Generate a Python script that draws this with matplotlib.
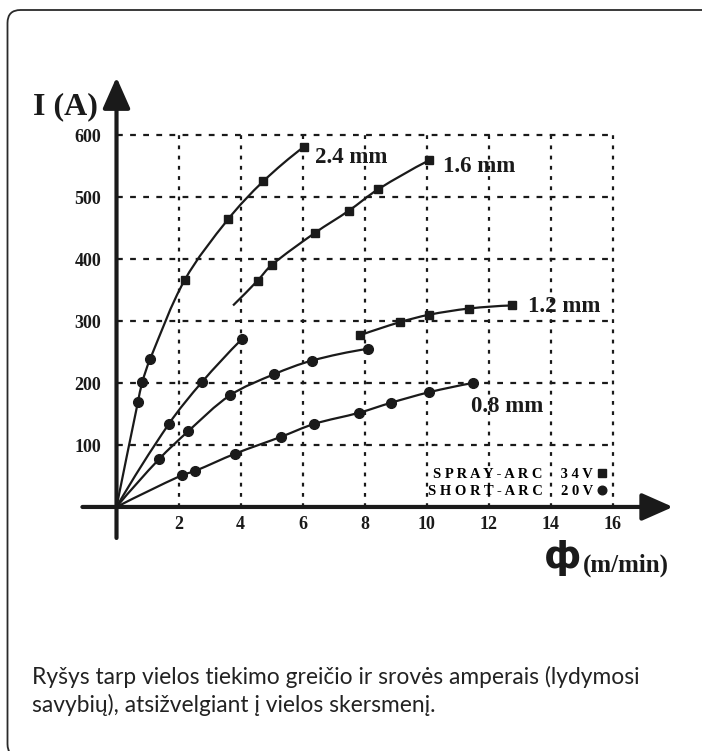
import numpy as np
import matplotlib
matplotlib.use('Agg')
import matplotlib.pyplot as plt
from matplotlib.path import Path
from matplotlib.patches import PathPatch, FancyBboxPatch
from matplotlib.lines import Line2D
from matplotlib.transforms import IdentityTransform

# wire feed speed (m/min) vs current (A)
wire_labels = ['2.4 mm', '1.6 mm', '1.2 mm', '0.8 mm']

# short-arc points (circles), curves start at the origin
short_x = {
    '2.4 mm': [0.69, 0.83, 1.08],
    '1.6 mm': [1.69, 2.75, 4.05],
    '1.2 mm': [1.37, 2.31, 3.66, 5.08, 6.3, 8.1],
    '0.8 mm': [2.1, 2.53, 3.83, 5.3, 6.38, 7.83, 8.85, 10.08, 11.5],
}
short_y = {
    '2.4 mm': [169, 201, 238],
    '1.6 mm': [134, 201, 271],
    '1.2 mm': [77, 122, 180, 214, 236, 255],
    '0.8 mm': [51, 58, 86, 113, 134, 152, 168, 185, 200],
}

# spray-arc points (squares)
spray_x = {
    '2.4 mm': [2.2, 3.6, 4.73, 6.05],
    '1.6 mm': [4.55, 5.0, 6.4, 7.5, 8.43, 10.08],
    '1.2 mm': [7.86, 9.14, 10.08, 11.37, 12.76],
}
spray_y = {
    '2.4 mm': [366, 464, 525, 581],
    '1.6 mm': [365, 390, 442, 478, 512, 559],
    '1.2 mm': [277, 298, 310, 320, 325],
}
# the 1.6 mm spray curve starts a little before its first square
spray16_start = (3.76, 325)
# 2.4 mm is one continuous curve through both kinds of points
joined = ['2.4 mm']

label_pos = {'2.4 mm': (6.4, 555), '1.6 mm': (10.53, 540),
             '1.2 mm': (13.27, 315), '0.8 mm': (11.43, 153)}

xticks = [2, 4, 6, 8, 10, 12, 14, 16]
yticks = [100, 200, 300, 400, 500, 600]

caption = ('Ryšys tarp vielos tiekimo greičio ir srovės amperais (lydymosi\n'
           'savybių), atsižvelgiant į vielos skersmenį.')

SX, SY = 31.0, 0.62  # px per data unit, used to keep curves round on screen


def smooth_path(xs, ys):
    p = np.column_stack([np.asarray(xs) * SX, np.asarray(ys) * SY])
    n = len(p)
    tang = np.zeros_like(p)
    for i in range(n):
        if 0 < i < n - 1:
            d = p[i + 1] - p[i - 1]
            tang[i] = d / np.linalg.norm(d)
    d0 = (p[1] - p[0]) / np.linalg.norm(p[1] - p[0])
    dn = (p[-1] - p[-2]) / np.linalg.norm(p[-1] - p[-2])
    if n > 2:
        t0 = 2 * d0 - tang[1]
        tn = 2 * dn - tang[-2]
        tang[0] = t0 / np.linalg.norm(t0)
        tang[-1] = tn / np.linalg.norm(tn)
    else:
        tang[0], tang[-1] = d0, dn
    verts = [p[0]]
    codes = [Path.MOVETO]
    for i in range(n - 1):
        L = np.linalg.norm(p[i + 1] - p[i]) / 3
        verts += [p[i] + tang[i] * L, p[i + 1] - tang[i + 1] * L, p[i + 1]]
        codes += [Path.CURVE4] * 3
    verts = np.array(verts) / [SX, SY]
    return Path(verts, codes)


fig = plt.figure(figsize=(7.02, 7.51), dpi=100)
ax = fig.add_axes([0.07764, 0.2589, 0.8832, 0.6605])
ax.set_xlim(-2, 18)
ax.set_ylim(-80, 720)
ax.axis('off')

# outer rounded frame
fig.add_artist(FancyBboxPatch((7.5, -6), 760, 747, transform=IdentityTransform(),
                              boxstyle='round,pad=0,rounding_size=13',
                              fill=False, ec='#2a2a2a', lw=1.3))

lc = '#1a1a1a'

# dashed grid
ax.hlines(yticks, 0, 16, colors=lc, lw=1.6, linestyles=[(0, (2.6, 3.3))])
ax.vlines(xticks, 0, 600, colors=lc, lw=1.6, linestyles=[(0, (1.7, 2.9))])

# axes with arrows
arrow = dict(arrowstyle='-|>,head_length=0.95,head_width=0.42', lw=3,
             color=lc, shrinkA=0, shrinkB=0, mutation_scale=20)
ax.annotate('', xy=(17.95, 0), xytext=(-1.1, 0), arrowprops=arrow, annotation_clip=False)
ax.annotate('', xy=(0, 693), xytext=(0, -50), arrowprops=arrow, annotation_clip=False)

for w in wire_labels:
    xs = [0] + short_x[w]
    ys = [0] + short_y[w]
    if w in joined:
        xs += spray_x[w]
        ys += spray_y[w]
    ax.add_patch(PathPatch(smooth_path(xs, ys), fill=False, ec=lc, lw=1.6))
    ax.plot(short_x[w], short_y[w], 'o', color=lc, ms=7, ls='none')
    if w in spray_x:
        if w not in joined:
            xs, ys = spray_x[w], spray_y[w]
            if w == '1.6 mm':
                xs = [spray16_start[0]] + xs
                ys = [spray16_start[1]] + ys
            ax.add_patch(PathPatch(smooth_path(xs, ys), fill=False, ec=lc, lw=1.6))
        ax.plot(spray_x[w], spray_y[w], 's', color=lc, ms=6.2, ls='none')
    ax.text(*label_pos[w], w, fontsize=16.5, fontweight='bold',
            family='Liberation Serif', va='baseline', ha='left', color=lc)

for x in xticks:
    ax.text(x, -35.5, str(x), fontsize=13, fontweight='bold', family='Liberation Serif',
            ha='center', va='baseline', color=lc)
for y in yticks:
    ax.text(-0.5, y - 11, str(y), fontsize=13, fontweight='bold', family='Liberation Serif',
            ha='right', va='baseline', color=lc)

ax.text(-2.7, 633, 'I (A)', fontsize=23, fontweight='bold', family='Liberation Serif',
        ha='left', va='baseline', color=lc)
ax.text(14.4, -82, 'ф', fontsize=27, fontweight='bold', family='DejaVu Sans',
        ha='center', va='center', color=lc)
ax.text(15.05, -104, '(m/min)', fontsize=18, fontweight='bold', family='Liberation Serif',
        ha='left', va='baseline', color=lc)

# legend
handles = [Line2D([], [], marker='s', color=lc, ls='none', ms=6.2),
           Line2D([], [], marker='o', color=lc, ls='none', ms=6.2)]
labels = [' '.join('SPRAY-ARC') + '     ' + ' '.join('34V'),
          ' '.join('SHORT-ARC') + '     ' + ' '.join('20V')]
ax.legend(handles, labels, loc='lower right', bbox_to_anchor=(15.8, 15),
          bbox_transform=ax.transData, frameon=False, markerfirst=False,
          borderpad=0, borderaxespad=0, handlelength=0.6, handletextpad=0.3,
          labelspacing=0.25,
          prop={'family': 'Liberation Serif', 'weight': 'bold', 'size': 10.5})

fig.text(32 / 702, 1 - 712 / 751, caption, fontsize=16.4, family='Lato',
         ha='left', va='baseline', linespacing=1.3, color='#222222')

fig.savefig('out.png', dpi=100)
